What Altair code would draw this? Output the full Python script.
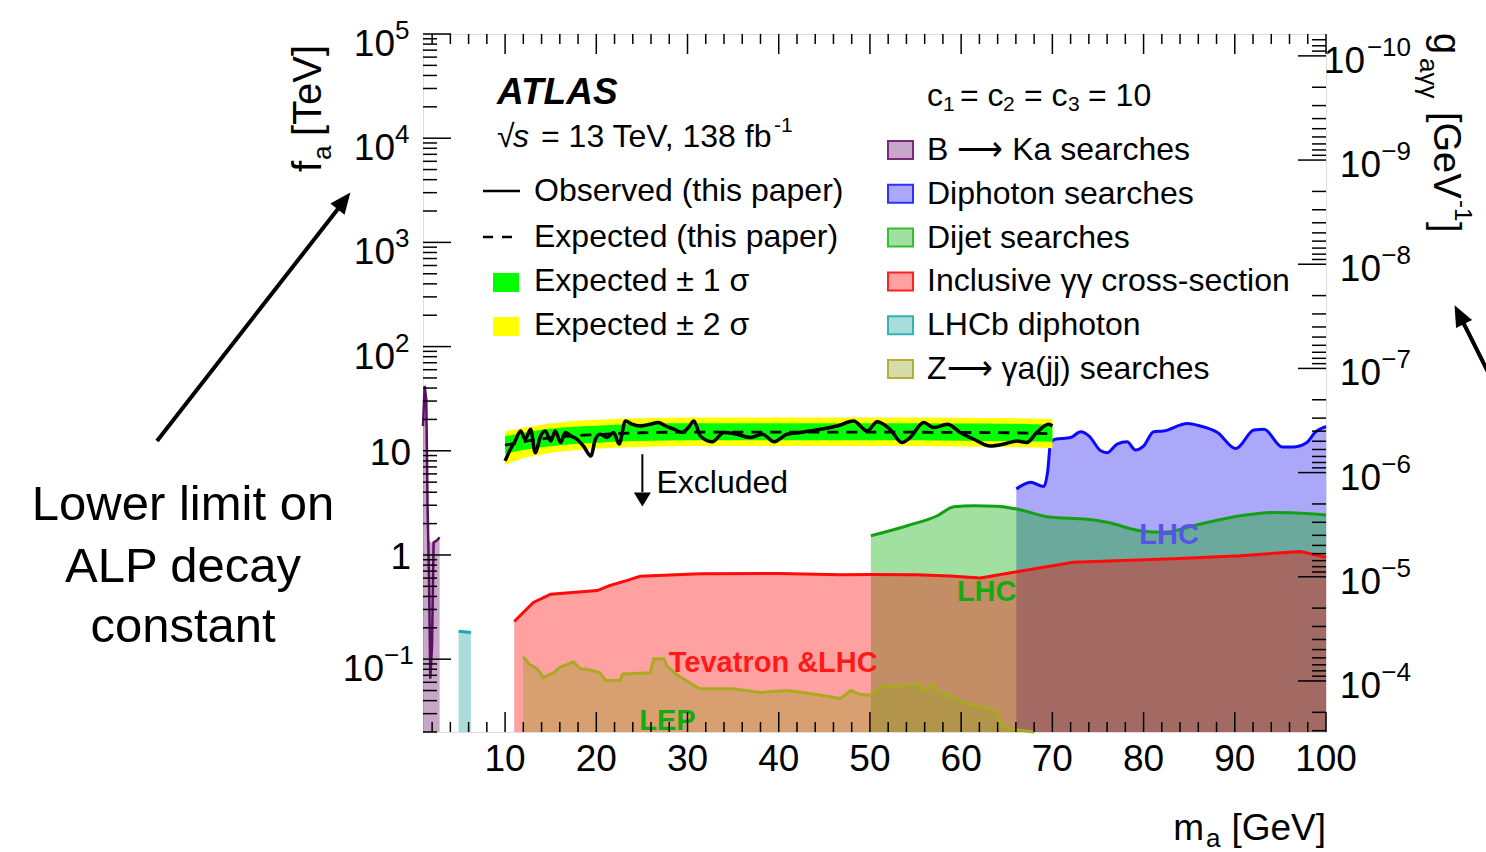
import altair as alt
import pandas as pd

FONT = "Liberation Sans"

# ---------------- ATLAS limit (this paper) ----------------
obs_m = [10.0, 10.6, 11.1, 11.7, 12.2, 12.8, 13.3, 13.9, 14.4, 15.0, 15.5, 16.1, 16.6, 17.2,
         17.9, 18.6, 19.4, 19.9, 20.4, 21.2, 21.9, 22.5, 23.2, 23.9, 24.8, 25.9, 26.8, 27.6,
         28.5, 29.4, 30.1, 30.7, 31.4, 32.7, 34.0, 35.4, 36.9, 38.2, 39.5, 40.9, 42.4, 44.6,
         46.4, 48.2, 49.7, 50.8, 52.2, 53.5, 54.4, 55.9, 57.0, 58.5, 59.9, 61.4, 63.2, 64.7,
         66.1, 67.2, 68.3, 69.6, 70.0]
obs_f = [8.0, 10.4, 12.4, 15.5, 12.9, 16.1, 9.6, 13.9, 15.5, 12.4, 15.5, 12.0, 15.0, 13.9,
         12.9, 11.1, 8.9, 12.9, 14.4, 13.4, 15.0, 11.6, 19.3, 18.0, 17.3, 18.0, 18.7, 17.3,
         16.1, 15.0, 16.7, 19.3, 13.9, 12.2, 15.0, 14.4, 13.4, 14.4, 12.2, 14.4, 15.0, 16.1,
         17.3, 19.3, 15.5, 19.0, 16.1, 12.0, 13.4, 18.7, 16.7, 18.0, 15.0, 12.9, 11.1, 11.6,
         12.4, 12.0, 15.0, 18.0, 17.3]

exp_m = [10, 12, 14, 16, 18, 20, 22, 25, 30, 40, 50, 60, 65, 70]
exp_f = [11.3, 12.2, 13.0, 13.6, 14.0, 14.3, 14.6, 14.9, 15.1, 15.1, 15.1, 15.0, 14.9, 14.6]
exp_1lo = [9.4, 10.2, 10.8, 11.3, 11.7, 11.9, 12.2, 12.4, 12.6, 12.6, 12.6, 12.5, 12.4, 12.2]
exp_1hi = [13.8, 14.9, 15.9, 16.6, 17.1, 17.4, 17.8, 18.2, 18.4, 18.4, 18.4, 18.3, 18.2, 17.8]
exp_2lo = [7.3, 8.5, 9.2, 9.8, 10.2, 10.5, 10.7, 10.9, 11.1, 11.1, 11.1, 11.0, 10.9, 10.6]
exp_2hi = [15.3, 16.6, 17.8, 18.7, 19.4, 19.8, 20.2, 20.6, 20.9, 20.9, 20.9, 20.8, 20.6, 20.2]

# ---------------- other searches ----------------
bka_m = [1.0, 1.18, 1.36, 1.5, 1.62, 2.0, 2.16, 2.53, 2.82]
bka_f = [30, 42, 31, 3.0, 1.4, 1.3, 1.32, 1.38, 1.48]
bka_line_m = [1.0, 1.18, 1.36, 1.5, 1.66, 1.8, 1.99, 2.16, 2.53, 2.82]
bka_line_f = [17.3, 41.9, 31, 3.0, 0.59, 0.065, 0.135, 1.32, 1.38, 1.48]

lhcb_m = [4.9, 6.25]
lhcb_f = [0.185, 0.18]

diph_m = [66.05, 67.6, 69.05, 69.5, 69.8, 70.3, 72.0, 73.1, 74.0, 75.3, 76.0, 77.1, 78.2, 79.1,
          80.0, 81.1, 82.2, 84.8, 86.2, 88.1, 90.1, 92.1, 93.2, 95.2, 96.5, 97.9, 98.8, 100.0]
diph_f = [4.3, 5.0, 4.55, 6.5, 12.0, 12.9, 13.4, 15.2, 13.9, 10.0, 9.6, 11.6, 12.2, 10.2,
          11.1, 15.2, 15.5, 18.3, 17.3, 15.0, 10.5, 15.8, 16.1, 10.9, 10.9, 12.0, 15.0, 17.1]

dijet_m = [50.1, 54.1, 57.4, 59.2, 61.4, 63.9, 66.1, 69.8, 73.8, 76.0, 79.6, 82.2, 85.5, 90.6,
           94.3, 97.9, 100.0]
dijet_f = [1.53, 1.91, 2.38, 2.9, 2.97, 2.93, 2.76, 2.30, 2.20, 2.06, 1.71, 1.65, 1.91, 2.38,
           2.56, 2.5, 2.42]

incl_m = [11.0, 13.1, 15.0, 20.1, 21.5, 23.4, 24.8, 31.4, 40.0, 46.8, 50.0, 55.0, 58.8, 62.1,
          66.1, 72.3, 83.3, 90.6, 97.2, 100.0]
incl_f = [0.23, 0.35, 0.42, 0.455, 0.51, 0.57, 0.625, 0.66, 0.665, 0.645, 0.65, 0.645, 0.63,
          0.6, 0.69, 0.85, 0.92, 0.985, 1.08, 0.95]

zga_m = [11.97, 12.3, 12.6, 13.5, 14.2, 15.3, 16.05, 17.5, 18.25, 19.0, 20.4, 21.0, 22.6, 22.9,
         25.9, 26.3, 27.4, 27.75, 28.85, 30.7, 31.4, 35.0, 38.0, 41.0, 44.0, 46.8, 47.9, 48.9,
         50.0, 51.5, 53.0, 55.5, 55.7, 57.0, 57.3, 59.9, 61.4, 63.9, 64.3, 66.0, 68.0]
zga_f = [0.105, 0.098, 0.09, 0.081, 0.067, 0.074, 0.084, 0.094, 0.081, 0.080, 0.074, 0.0625,
         0.0625, 0.072, 0.074, 0.101, 0.101, 0.086, 0.071, 0.056, 0.052, 0.052, 0.048, 0.050,
         0.046, 0.042, 0.050, 0.046, 0.045, 0.056, 0.054, 0.059, 0.050, 0.057, 0.050, 0.040,
         0.036, 0.032, 0.023, 0.021, 0.020]

# ---------------- axes ----------------
x_major = [10, 20, 30, 40, 50, 60, 70, 80, 90, 100]
x_minor = [v for v in range(2, 100, 2) if v % 10]
F_LO, F_HI = 0.02, 1e5
f_major = [0.1, 1, 10, 100, 1e3, 1e4, 1e5]
f_minor = [k * 10.0 ** e for e in range(-2, 5) for k in range(2, 10) if F_LO <= k * 10.0 ** e <= F_HI]
g_major = [1e-10, 1e-9, 1e-8, 1e-7, 1e-6, 1e-5, 1e-4]
G_LO, G_HI = 10 ** -10.21, 10 ** -3.51
g_minor = [k * 10.0 ** e for e in range(-11, -3) for k in range(2, 10) if G_LO <= k * 10.0 ** e <= G_HI]

W, H = 903, 698
xs = alt.Scale(domain=[1, 100], nice=False, zero=False)
ys = alt.Scale(type="log", domain=[F_LO, F_HI], nice=False)
gs = alt.Scale(type="log", domain=[G_LO, G_HI], nice=False, reverse=True)

X = alt.X("m:Q", scale=xs, axis=None)
Y = alt.Y("f:Q", scale=ys, axis=None)
ONE = alt.Data(values=[{"k": 0}])

ALPHA = 0.37


def frame(ms, fs):
    return pd.DataFrame({"m": ms, "f": fs})


def fill(ms, fs, color, interp="linear"):
    return alt.Chart(frame(ms, fs)).mark_area(color=color, opacity=ALPHA, interpolate=interp).encode(
        x=X, y=alt.Y("f:Q", scale=ys, axis=None, stack=None), y2=alt.Y2(datum=F_LO))


def curve(ms, fs, color, width=3, interp="linear", dash=None):
    kw = dict(color=color, strokeWidth=width, interpolate=interp)
    if dash:
        kw["strokeDash"] = dash
    return alt.Chart(frame(ms, fs)).mark_line(**kw).encode(x=X, y=Y)


def vtext(s, x, y, size=32, align="left", color="black", weight="normal", style="normal", angle=0):
    return alt.Chart(ONE).mark_text(text=s, align=align, baseline="middle", fontSize=size, font=FONT,
                                    color=color, fontWeight=weight, fontStyle=style,
                                    angle=angle).encode(x=alt.value(x), y=alt.value(y))


def dtext(s, m, f, size=29, color="black", weight="bold", align="center", clip=False):
    return alt.Chart(frame([m], [f])).mark_text(text=s, align=align, baseline="middle", fontSize=size,
                                                font=FONT, color=color, fontWeight=weight,
                                                clip=clip).encode(x=X, y=Y)


def vrule(x, y, x2, y2, color="black", width=2, dash=None):
    kw = dict(color=color, strokeWidth=width)
    if dash:
        kw["strokeDash"] = dash
    return alt.Chart(ONE).mark_rule(**kw).encode(x=alt.value(x), y=alt.value(y), x2=alt.value(x2),
                                                 y2=alt.value(y2))


def vbox(x, y, x2, y2, fillc, strokec, opacity=1.0, sw=2):
    return alt.Chart(ONE).mark_rect(fill=fillc, fillOpacity=opacity, stroke=strokec,
                                    strokeWidth=sw).encode(x=alt.value(x), y=alt.value(y),
                                                           x2=alt.value(x2), y2=alt.value(y2))


def head(x, y, angle, size=576):
    return alt.Chart(ONE).mark_point(shape="M0,-1L0.75,0.75L-0.75,0.75Z", filled=True, opacity=1,
                                     color="black", size=size, angle=angle).encode(
        x=alt.value(x), y=alt.value(y))


layers = []

# excluded regions of earlier searches (drawn back to front)
layers += [
    fill(diph_m, diph_f, "#1e14f0", "monotone"),
    fill(dijet_m, dijet_f, "#00aa00", "monotone"),
    fill(incl_m, incl_f, "#ff0000"),
    fill(zga_m, zga_f, "#96a01e"),
    fill(bka_m, bka_f, "#6b106b"),
    fill(lhcb_m, lhcb_f, "#18a0a0"),
    curve(diph_m, diph_f, "#0a0aff", interp="monotone"),
    curve(dijet_m, dijet_f, "#14a014", interp="monotone"),
    curve(incl_m, incl_f, "#ff0a0a"),
    curve(zga_m, zga_f, "#aaaa20"),
    curve(bka_line_m, bka_line_f, "#581060", width=2.5),
    curve(lhcb_m, lhcb_f, "#20a8a8"),
]

# expected bands, expected and observed limits
band = pd.DataFrame({"m": exp_m, "lo2": exp_2lo, "hi2": exp_2hi, "lo1": exp_1lo, "hi1": exp_1hi})
layers += [
    alt.Chart(band).mark_area(color="#ffff00", interpolate="monotone").encode(
        x=X, y=alt.Y("lo2:Q", scale=ys, axis=None), y2="hi2:Q"),
    alt.Chart(band).mark_area(color="#00ff00", interpolate="monotone").encode(
        x=X, y=alt.Y("lo1:Q", scale=ys, axis=None), y2="hi1:Q"),
    curve(exp_m, exp_f, "black", width=2.8, interp="monotone", dash=[11, 8]),
    curve(obs_m, obs_f, "black", width=3.5, interp="monotone"),
]

# region labels
layers += [
    dtext("LHC", 82.8, 1.56, color="#5555e8"),
    dtext("LHC", 62.8, 0.443, color="#14aa14"),
    dtext("Tevatron &LHC", 39.4, 0.0925, color="#ff1a1a"),
    dtext("LEP", 27.8, 0.0255, color="#14aa14", clip=True),
    dtext("Excluded", 26.6, 4.9, size=32, weight="normal", align="left"),
    alt.Chart(frame([25.05], [9.27])).mark_rule(color="black", strokeWidth=2).encode(
        x=X, y=Y, y2=alt.Y2(datum=4.0)),
    alt.Chart(frame([25.05], [3.43])).mark_point(shape="M-1,-0.8L1,-0.8L0,0.85Z", filled=True,
                                                 opacity=1, color="black", size=289).encode(x=X, y=Y),
]

# inward ticks on the bottom, top and left edges
xt_major = pd.DataFrame({"m": x_major})
xt_minor = pd.DataFrame({"m": x_minor})
layers += [
    alt.Chart(xt_major).mark_rule(color="black", strokeWidth=1.5).encode(x=X, y=alt.value(H), y2=alt.value(H - 20)),
    alt.Chart(xt_minor).mark_rule(color="black", strokeWidth=1.5).encode(x=X, y=alt.value(H), y2=alt.value(H - 10)),
    alt.Chart(xt_major).mark_rule(color="black", strokeWidth=1.5).encode(x=X, y=alt.value(0), y2=alt.value(20)),
    alt.Chart(xt_minor).mark_rule(color="black", strokeWidth=1.5).encode(x=X, y=alt.value(0), y2=alt.value(10)),
    alt.Chart(pd.DataFrame({"f": f_major})).mark_rule(color="black", strokeWidth=1.5).encode(
        y=Y, x=alt.value(0), x2=alt.value(28)),
    alt.Chart(pd.DataFrame({"f": f_minor})).mark_rule(color="black", strokeWidth=1.5).encode(
        y=Y, x=alt.value(0), x2=alt.value(14)),
]

# tick labels: m_a
layers.append(
    alt.Chart(pd.DataFrame({"m": x_major, "t": [str(v) for v in x_major]})).mark_text(
        fontSize=37, font=FONT, baseline="middle", align="center").encode(
        x=X, y=alt.value(726), text="t:N"))

# tick labels: f_a (powers of ten written as base plus raised exponent)
pos_pow = pd.DataFrame({"f": [1e5, 1e4, 1e3, 1e2], "e": ["5", "4", "3", "2"]})
neg_pow = pd.DataFrame({"f": [0.1], "e": ["\u22121"]})
plain = pd.DataFrame({"f": [10, 1], "t": ["10", "1"]})
layers += [
    alt.Chart(pos_pow).mark_text(text="10", fontSize=37, font=FONT, align="right", baseline="middle",
                                 dy=11).encode(y=Y, x=alt.value(-28)),
    alt.Chart(pos_pow).mark_text(fontSize=26, font=FONT, align="left", baseline="middle",
                                 dy=-3).encode(y=Y, x=alt.value(-28), text="e:N"),
    alt.Chart(neg_pow).mark_text(text="10", fontSize=37, font=FONT, align="right", baseline="middle",
                                 dy=11).encode(y=Y, x=alt.value(-39)),
    alt.Chart(neg_pow).mark_text(fontSize=26, font=FONT, align="left", baseline="middle",
                                 dy=-3).encode(y=Y, x=alt.value(-39), text="e:N"),
    alt.Chart(plain).mark_text(fontSize=37, font=FONT, align="right", baseline="middle",
                               dy=3).encode(y=Y, x=alt.value(-12), text="t:N"),
]

# axis titles
layers += [
    vtext("f", -114, 138, size=40, angle=270),
    vtext("a", -100, 126, size=26, angle=270),
    vtext("[TeV]", -114, 102, size=40, angle=270),
    vtext("g", 1022, -1, size=38, angle=90),
    vtext("a\u03b3\u03b3", 1005, 24, size=26, angle=90),
    vtext("[GeV", 1022, 78, size=38, angle=90),
    vtext("-1", 1039, 166, size=24, angle=90),
    vtext("]", 1022, 188, size=38, angle=90),
    vtext("m", 781, 795, size=37, align="right"),
    vtext("a", 783, 805, size=26),
    vtext("[GeV]", 903, 795, size=37, align="right"),
]

# legend: this paper
layers += [
    vtext("ATLAS", 74, 59, size=37, weight="bold", style="italic"),
    vtext("\u221a", 74, 103, size=32),
    vtext("s", 90, 103, size=32, style="italic"),
    vtext("= 13 TeV, 138 fb", 118, 103, size=32),
    vtext("-1", 351, 92, size=21),
    vrule(60, 157, 97, 157, width=2.5),
    vtext("Observed (this paper)", 111, 157),
    vrule(60, 203, 90, 203, width=2.5, dash=[10, 9]),
    vtext("Expected (this paper)", 111, 203),
    vbox(70, 239, 96, 258, "#00ff00", "#00ff00", sw=0),
    vtext("Expected \u00b1 1 \u03c3", 111, 247),
    vbox(70, 283, 96, 302, "#ffff00", "#ffff00", sw=0),
    vtext("Expected \u00b1 2 \u03c3", 111, 291),
]

# legend: earlier searches
layers += [
    vtext("c", 504, 62), vtext("1", 520, 71, size=21),
    vtext("= c", 537, 62), vtext("2", 580, 71, size=21),
    vtext("= c", 601, 62), vtext("3", 645, 71, size=21),
    vtext("= 10", 665, 62),
]
entries = [
    ("B \u27f6 Ka searches", "#6b106b", "#7a2a7a"),
    ("Diphoton searches", "#1e14f0", "#3030ff"),
    ("Dijet searches", "#00aa00", "#30c030"),
    ("Inclusive \u03b3\u03b3 cross-section", "#ff0000", "#ff2020"),
    ("LHCb diphoton", "#18a0a0", "#30b4b4"),
    ("Z\u27f6 \u03b3a(jj) searches", "#96a01e", "#b4b030"),
]
for i, (lab, fc, sc) in enumerate(entries):
    yc = 116 + i * 43.8
    layers.append(vbox(465, yc - 9, 490, yc + 9, fc, sc, opacity=ALPHA))
    layers.append(vtext(lab, 504, yc))

# annotation outside the frame
layers += [
    vtext("Lower limit on", -240, 471, size=49, align="center"),
    vtext("ALP decay", -240, 533, size=49, align="center"),
    vtext("constant", -240, 593, size=49, align="center"),
    vrule(-266, 407, -82, 171, width=4),
    head(-80, 168, 38),
    vrule(1037, 282, 1085, 378, width=4),
    head(1037, 282, 333),
]

main = alt.layer(*layers)

# right-hand axis in g_a_gamma_gamma
G = alt.Y("g:Q", scale=gs, axis=None)
g_pow = pd.DataFrame({"g": g_major[1:], "e": ["\u22129", "\u22128", "\u22127", "\u22126", "\u22125", "\u22124"]})
g_pow10 = pd.DataFrame({"g": g_major[:1], "e": ["\u221210"]})
right = alt.layer(
    alt.Chart(pd.DataFrame({"g": g_major})).mark_rule(color="black", strokeWidth=1.5).encode(
        y=G, x=alt.value(W), x2=alt.value(W - 28)),
    alt.Chart(pd.DataFrame({"g": g_minor})).mark_rule(color="black", strokeWidth=1.5).encode(
        y=G, x=alt.value(W), x2=alt.value(W - 14)),
    alt.Chart(g_pow).mark_text(text="10", fontSize=37, font=FONT, align="right", baseline="middle",
                               dy=6).encode(y=G, x=alt.value(958)),
    alt.Chart(g_pow).mark_text(fontSize=26, font=FONT, align="right", baseline="middle",
                               dy=-8).encode(y=G, x=alt.value(988), text="e:N"),
    alt.Chart(g_pow10).mark_text(text="10", fontSize=37, font=FONT, align="right", baseline="middle",
                                 dy=6).encode(y=G, x=alt.value(942)),
    alt.Chart(g_pow10).mark_text(fontSize=26, font=FONT, align="right", baseline="middle",
                                 dy=-8).encode(y=G, x=alt.value(988), text="e:N"),
)

chart = alt.layer(main, right).resolve_scale(y="independent").properties(
    width=W, height=H,
    autosize=alt.AutoSizeParams(type="none"),
    padding={"left": 423, "top": 34, "right": 160, "bottom": 120},
).configure_view(stroke="black", strokeWidth=2).configure(background="white")

chart.save("out.html", embed_options={"renderer": "svg", "actions": False})
